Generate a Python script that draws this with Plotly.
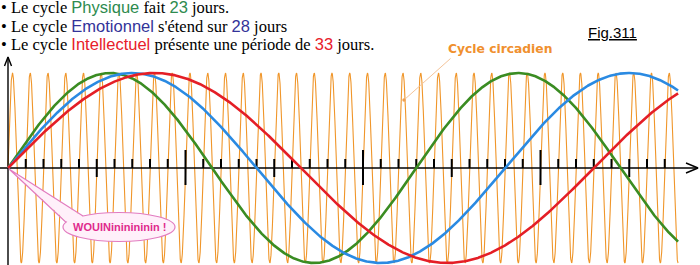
import numpy as np
import plotly.graph_objects as go

# ---------------- data ----------------
cycle_names = ["Physique", "Emotionnel", "Intellectuel"]
cycle_periods = [23, 28, 33]          # days
cycle_colors = ["#3a8c22", "#2a8ae2", "#e41e26"]
text_colors = ["#2e8b4e", "#333399", "#e8202a"]
circadian_period = 1                   # day
t_end = 37.75                          # days drawn
tick_days = list(range(1, 38))

# ---------------- pixel geometry helpers ----------------
W, H = 700, 265
X0PX, Y0PX = 8, 168          # origin in pixels
PX_PER_DAY = 17.75
PX_PER_UNIT = 95

def dx(px):
    return (px - X0PX) / PX_PER_DAY

def dy(py):
    return (Y0PX - py) / PX_PER_UNIT

def pxp(px):
    return px / W

def pyp(py):
    return 1 - py / H

fig = go.Figure()

# circadian
t = np.linspace(0, t_end, 6000)
fig.add_trace(go.Scatter(x=t, y=np.sin(2 * np.pi * t / circadian_period), mode="lines",
                         line=dict(color="#f0962a", width=1.1), hoverinfo="skip"))

# axes (as traces so coloured curves draw above)
ax_x = [dx(0), dx(697), None, dx(686), dx(698), dx(686), None,
        dx(8), dx(8), None, dx(4.5), dx(8), dx(11.5)]
ax_y = [0, 0, None, dy(163), dy(168), dy(173), None,
        dy(265), dy(57), None, dy(66), dy(57), dy(66)]
fig.add_trace(go.Scatter(x=ax_x, y=ax_y, mode="lines",
                         line=dict(color="black", width=1.4), hoverinfo="skip"))

tx, ty = [], []
for d in tick_days:
    if d % 10 == 0:
        top, bot = 150, 185
    elif d % 5 == 0:
        top, bot = 159, 177
    else:
        top, bot = 159, 168
    tx += [d, d, None]
    ty += [dy(top), dy(bot), None]
fig.add_trace(go.Scatter(x=tx, y=ty, mode="lines",
                         line=dict(color="black", width=2), hoverinfo="skip"))

tc = np.linspace(0, t_end, 1500)
for name, p, c in zip(cycle_names, cycle_periods, cycle_colors):
    fig.add_trace(go.Scatter(x=tc, y=np.sin(2 * np.pi * tc / p), mode="lines", name=name,
                             line=dict(color=c, width=2.6), hoverinfo="skip"))

# ---------------- text ----------------
SERIF = "Liberation Serif"
SANS = "Liberation Sans"

def sp(txt, col):
    return f"<span style='font-family:{SANS};color:{col}'>{txt}</span>"

lines = [
    f"• Le cycle {sp(cycle_names[0], text_colors[0])} fait {sp(cycle_periods[0], text_colors[0])} jours.",
    f"• Le cycle {sp(cycle_names[1], text_colors[1])} s'étend sur {sp(cycle_periods[1], text_colors[1])} jours",
    f"• Le cycle {sp(cycle_names[2], text_colors[2])} présente une période de {sp(cycle_periods[2], text_colors[2])} jours.",
]
annotations = []
for i, ln in enumerate(lines):
    annotations.append(dict(xref="paper", yref="paper", x=pxp(0), y=pyp(8 + 18.5 * i),
                            xanchor="left", yanchor="middle", showarrow=False, borderpad=0,
                            text=ln, font=dict(family=SERIF, size=16.5, color="black")))

annotations.append(dict(xref="paper", yref="paper", x=pxp(612), y=pyp(33),
                        xanchor="center", yanchor="middle", showarrow=False, borderpad=0,
                        text="<u>Fig.311</u>", font=dict(family=SANS, size=15, color="black")))
annotations.append(dict(xref="paper", yref="paper", x=pxp(500), y=pyp(49),
                        xanchor="center", yanchor="middle", showarrow=False, borderpad=0,
                        text="<b>Cycle circadien</b>", font=dict(family="DejaVu Sans", size=12.3, color="#f0902e")))

shapes = []
# leader line
shapes.append(dict(type="line", xref="paper", yref="paper", x0=pxp(450.5), y0=pyp(58.5),
                   x1=pxp(404), y1=pyp(100), line=dict(color="#f4c49a", width=1), layer="above"))
shapes.append(dict(type="circle", xref="paper", yref="paper", x0=pxp(402.3), y0=pyp(98.3),
                   x1=pxp(405.7), y1=pyp(101.7), fillcolor="#f0a050", line=dict(width=0), layer="above"))

# callout bubble
ecx, ecy, erx, ery = 119, 227, 56, 14.5
shapes.append(dict(type="circle", xref="paper", yref="paper", x0=pxp(ecx - erx), x1=pxp(ecx + erx),
                   y0=pyp(ecy + ery), y1=pyp(ecy - ery), fillcolor="#fff0fa",
                   line=dict(color="#e27cc0", width=1.2), layer="above"))
def P(px, py):
    return f"{pxp(px):.5f},{pyp(py):.5f}"
shapes.append(dict(type="path", xref="paper", yref="paper",
                   path=f"M {P(9,169)} L {P(85,218)} L {P(68.5,223)} Z",
                   fillcolor="#fff0fa", line=dict(width=0), layer="above"))
shapes.append(dict(type="path", xref="paper", yref="paper",
                   path=f"M {P(83,215.9)} L {P(9,169)} L {P(66,222.3)}",
                   line=dict(color="#e27cc0", width=1.2), layer="above"))
annotations.append(dict(xref="paper", yref="paper", x=pxp(119), y=pyp(227),
                        xanchor="center", yanchor="middle", showarrow=False, borderpad=0,
                        text="<b>WOUINininininin !</b>", font=dict(family=SANS, size=11, color="#e02a8c")))

fig.update_layout(
    width=W, height=H, margin=dict(l=0, r=0, t=0, b=0),
    paper_bgcolor="white", plot_bgcolor="white", showlegend=False,
    xaxis=dict(range=[dx(0), dx(W)], visible=False, fixedrange=True),
    yaxis=dict(range=[dy(H), dy(0)], visible=False, fixedrange=True),
    annotations=annotations, shapes=shapes,
)
fig.write_html("out.html")
